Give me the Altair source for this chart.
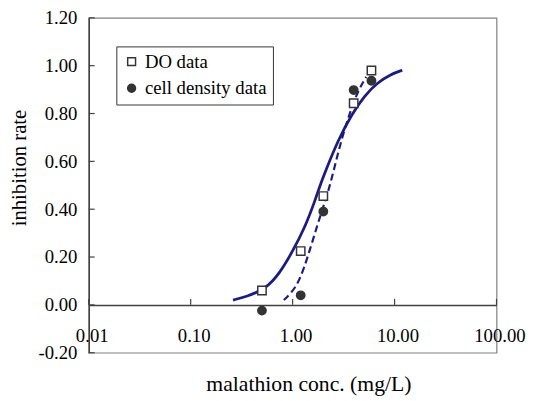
import altair as alt
import pandas as pd

# measured data points
conc = [0.5, 1.2, 2.0, 3.97, 5.93]
do_rate = [0.06, 0.225, 0.455, 0.843, 0.98]
cell_rate = [-0.024, 0.04, 0.39, 0.898, 0.937]
series_names = ["DO data", "cell density data"]

# fitted curves
solid_x = [0.26, 0.35, 0.55, 0.74, 0.99, 1.34, 1.67, 1.86, 2.08, 2.80, 3.78, 5.07, 6.82, 9.19, 11.9]
solid_y = [0.02, 0.034, 0.068, 0.13, 0.22, 0.33, 0.44, 0.50, 0.555, 0.69, 0.795, 0.875, 0.93, 0.964, 0.981]
dashed_x = [0.82, 1.07, 1.29, 1.55, 1.86, 2.24, 2.60, 3.02, 3.63, 4.37, 5.27]
dashed_y = [0.02, 0.068, 0.15, 0.26, 0.37, 0.473, 0.583, 0.692, 0.802, 0.895, 0.953]

x_ticks = [0.01, 0.1, 1, 10, 100]
y_ticks = [-0.2, 0.0, 0.2, 0.4, 0.6, 0.8, 1.0, 1.2]

FONT = "Liberation Serif"
NAVY = "#1c1c7e"
DARK = "#333333"
AXIS = "#404040"

pts = pd.DataFrame({
    "conc": conc + conc,
    "rate": do_rate + cell_rate,
    "series": [series_names[0]] * len(conc) + [series_names[1]] * len(conc),
})
solid = pd.DataFrame({"conc": solid_x, "rate": solid_y})
dashed = pd.DataFrame({"conc": dashed_x, "rate": dashed_y})
xt = pd.DataFrame({"x": x_ticks})
yt = pd.DataFrame({"y": y_ticks})

xs = alt.Scale(type="log", domain=[0.01, 100])
ys = alt.Scale(domain=[-0.2, 1.2], nice=False, zero=False)

x_axis = alt.Axis(
    values=x_ticks, format=".2f", offset=-48.5, ticks=False, grid=False,
    domainColor=AXIS, domainWidth=1.5, labelFont=FONT, labelFontSize=19,
    labelColor="black", labelPadding=31, labelBaseline="middle", labelOffset=3,
    labelFlush=False, labelOverlap=False,
    title="malathion conc. (mg/L)", titleFont=FONT, titleFontSize=22,
    titleFontWeight="normal", titleColor="black", titleX=223, titleY=87,
    titleBaseline="alphabetic", titleAlign="center",
)
y_axis = alt.Axis(
    values=y_ticks, ticks=False, grid=False, domainColor=AXIS, domainWidth=1.5,
    labelFont=FONT, labelFontSize=19, labelColor="black", labelPadding=12,
    labelExpr="datum.value < 0 ? '-' + format(-datum.value, '.2f') : format(datum.value, '.2f')",
    title="inhibition rate", titleFont=FONT, titleFontSize=21,
    titleFontWeight="normal", titleColor="black", titleX=-70, titleY=152,
    titleBaseline="middle", titleAlign="center", titleAngle=270,
)

base_x = alt.X("conc:Q", scale=xs, axis=x_axis)
base_y = alt.Y("rate:Q", scale=ys, axis=y_axis)

solid_line = alt.Chart(solid).mark_line(color=NAVY, strokeWidth=2.8, interpolate="basis").encode(
    x=base_x, y=base_y)
dashed_line = alt.Chart(dashed).mark_line(color=NAVY, strokeWidth=2.2, strokeDash=[7, 4],
                                          interpolate="basis").encode(
    x=alt.X("conc:Q", scale=xs), y=alt.Y("rate:Q", scale=ys))

legend = alt.Legend(
    orient="none", legendX=28, legendY=29, title=None, labelFont=FONT,
    labelFontSize=19, labelColor="black", strokeColor=DARK, fillColor="white",
    padding=6, rowPadding=7, labelOffset=4, symbolSize=64, symbolStrokeWidth=1.5,
)
points = alt.Chart(pts).mark_point(filled=True, size=72, strokeWidth=1.5, opacity=1).encode(
    x=alt.X("conc:Q", scale=xs),
    y=alt.Y("rate:Q", scale=ys),
    shape=alt.Shape("series:N", scale=alt.Scale(domain=series_names, range=["square", "circle"]), legend=legend),
    fill=alt.Fill("series:N", scale=alt.Scale(domain=series_names, range=["white", DARK]), legend=legend),
    stroke=alt.Stroke("series:N", scale=alt.Scale(domain=series_names, range=[DARK, DARK]), legend=legend),
)

xtick_marks = alt.Chart(xt).mark_rule(color=AXIS, strokeWidth=1.2).encode(
    x=alt.X("x:Q", scale=xs), y=alt.datum(0.0), y2=alt.datum(0.025))
ytick_marks = alt.Chart(yt).mark_rule(color=AXIS, strokeWidth=1.2).encode(
    y=alt.Y("y:Q", scale=ys), x=alt.value(0), x2=alt.value(6))

chart = alt.layer(solid_line, dashed_line, xtick_marks, ytick_marks, points).properties(
    width=414, height=340,
    autosize=alt.AutoSizeParams(type="none"),
    padding={"left": 82, "top": 7, "right": 34, "bottom": 44},
).configure(
    background="white", font=FONT
).configure_axis(
    labelFont=FONT, titleFont=FONT
).configure_legend(
    labelFont=FONT, titleFont=FONT
).configure_view(stroke="#808080", strokeWidth=1.2)

chart.save("out.html", embed_options={"renderer": "svg", "actions": False})
